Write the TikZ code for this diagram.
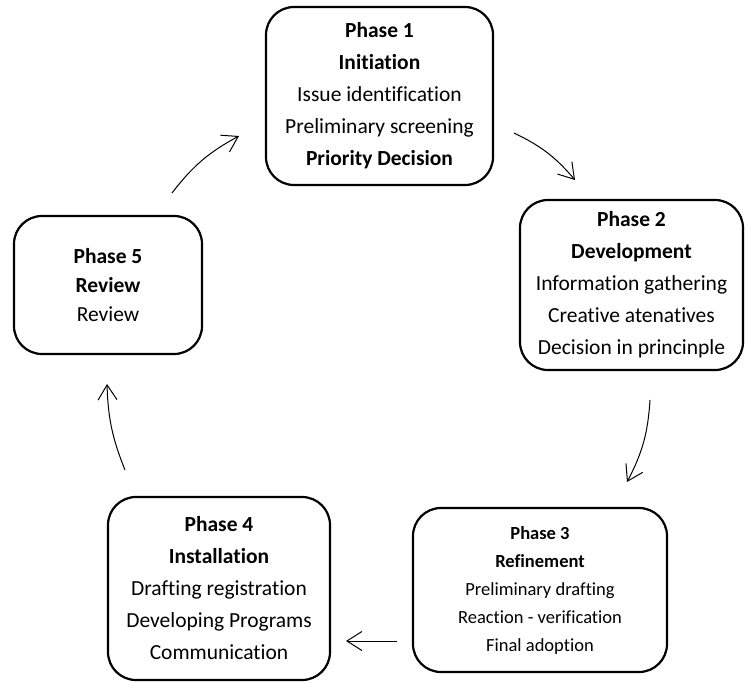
\documentclass[tikz,border=0pt]{standalone}
\usepackage{fontspec}
\setmainfont{Carlito}[Ligatures=NoCommon]
\usetikzlibrary{arrows.meta}

\begin{document}
\begin{tikzpicture}
        [x=1pt, y=1pt,
        phase/.style={rectangle, rounded corners=28pt, draw=black, line width=2.2pt,
           align=center, inner sep=0pt, font=\fontsize{21.5}{32}\selectfont},
        arr/.style={-{Straight Barb[length=15pt,width=19pt]}, line width=1pt}]
        \useasboundingbox (0,0) rectangle (747,681);
        \node (ph1) at (379.5, 585) [phase, minimum width=227pt, minimum height=178pt]
           {\textbf{Phase 1}\\ \textbf{Initiation}\\ Issue identification\\
            Preliminary screening\\ \textbf{Priority Decision}};
        \node (ph2) at (631.5, 396) [phase, minimum width=223pt, minimum height=170pt]
           {\textbf{Phase 2}\\ \textbf{Development}\\ Information gathering\\
            Creative atenatives\\ Decision in princinple};
        \node (ph3) at (540, 91) [phase, minimum width=254pt, minimum height=164pt,
           font=\fontsize{18.5}{28}\selectfont]
           {\textbf{Phase 3}\\ \textbf{Refinement}\\ Preliminary drafting\\
            Reaction - verification\\ Final adoption};
        \node (ph4) at (219, 92.5) [phase, minimum width=222pt, minimum height=183pt]
           {\textbf{Phase 4}\\ \textbf{Installation}\\ Drafting registration\\
            Developing Programs\\ Communication};
        \node (ph5) at (108, 396) [phase, minimum width=188pt, minimum height=138pt,
           font=\fontsize{21.5}{29}\selectfont]
           {\textbf{Phase 5}\\ \textbf{Review}\\ Review};
        % free ends of the cycle arrows
        \coordinate (s51) at (172, 488);
        \coordinate (e51) at (239, 545);
        \coordinate (s12) at (514, 548);
        \coordinate (e12) at (575, 501);
        \coordinate (s23) at (650, 281);
        \coordinate (e23) at (627, 199);
        \coordinate (s34) at (397, 40);
        \coordinate (e34) at (346, 40);
        \coordinate (s45) at (125, 211);
        \coordinate (e45) at (107, 297);
        \draw[arr] (s51) to[bend left=12] (e51);
        \draw[arr] (s12) to[bend left=12] (e12);
        \draw[arr] (s23) to[bend left=12] (e23);
        \draw[arr] (s34) -- (e34);
        \draw[arr] (s45) to[bend left=10] (e45);
     \end{tikzpicture}
\end{document}
